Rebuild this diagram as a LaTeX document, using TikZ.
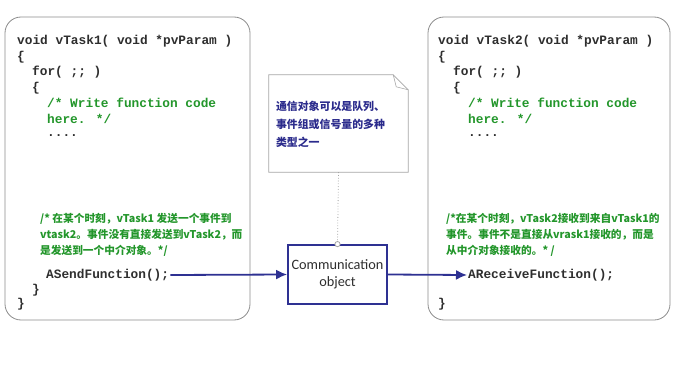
\documentclass[tikz,border=0pt]{standalone}
\usepackage{fontspec}
\usepackage{tikz}
\usetikzlibrary{arrows.meta,positioning}
\newfontfamily\codefont{Liberation Mono}
\newfontfamily\cjkfont{Noto Sans CJK SC}
\newfontfamily\labelfont{Carlito}
\definecolor{framegray}{HTML}{8C8C8C}
\definecolor{notegray}{HTML}{A6A6A6}
\definecolor{codeblack}{HTML}{2E2E2E}
\definecolor{commentgreen}{HTML}{23962B}
\definecolor{notenavy}{HTML}{2B2B8C}
\definecolor{linkblue}{HTML}{2E3192}
\tikzset{
  taskbox/.style={
    draw=framegray,line width=.8pt,rounded corners=16pt,
    minimum height=303pt,inner sep=0pt
  },
  code/.style={
    anchor=west,inner sep=1pt,text=codeblack,
    font=\codefont\bfseries\fontsize{12.8}{14}\selectfont
  },
  comment/.style={code,text=commentgreen},
  cjkcomment/.style={
    anchor=west,inner sep=1pt,text=commentgreen,
    font=\cjkfont\bfseries\fontsize{10.7}{12}\selectfont
  },
  commbox/.style={
    draw=linkblue,line width=1.8pt,minimum width=99pt,minimum height=59pt,
    align=center,text=codeblack,font=\labelfont\fontsize{14.3}{17}\selectfont
  },
  notetext/.style={
    anchor=north west,inner sep=0pt,text width=134pt,align=left,text=notenavy,
    font=\cjkfont\bfseries\fontsize{10.9}{18}\selectfont
  },
  arrow/.style={-{Latex[length=11pt,width=10pt]},draw=linkblue,line width=1.8pt}
}
\begin{document}
\begin{tikzpicture}[x=1pt,y=-1pt]
\useasboundingbox (0,0) rectangle (675,369);
% the two tasks
\node[taskbox,minimum width=245pt] (task1) at (127.5,168.5) {};
\node[taskbox,minimum width=242pt] (task2) at (549,168.5) {};

% code of vTask1
\node[code] (t1head) at (16,41) {void vTask1( void *pvParam )};
\node[code] at (16,57) {\{};
\node[code] at (31,72) {for( ;; )};
\node[code] at (31,88) {\{};
\node[comment] at (46,103) {/* Write function code};
\node[comment] at (46,119) {here. */};
\node[code] at (46,136) {....};
\node[cjkcomment] at (39,219) {/* 在某个时刻，vTask1 发送一个事件到};
\node[cjkcomment] at (39,235) {vtask2。事件没有直接发送到vTask2，而};
\node[cjkcomment] at (39,251) {是发送到一个中介对象。*/};
\node[code] (send) at (45,275) {ASendFunction();};
\node[code] at (31,290) {\}};
\node[code] at (16,304) {\}};

% code of vTask2
\node[code] (t2head) at (437,41) {void vTask2( void *pvParam )};
\node[code] at (437,57) {\{};
\node[code] at (452,72) {for( ;; )};
\node[code] at (452,88) {\{};
\node[comment] at (467,103) {/* Write function code};
\node[comment] at (467,119) {here. */};
\node[code] at (467,136) {....};
\node[cjkcomment] at (445,219) {/*在某个时刻，vTask2接收到来自vTask1的};
\node[cjkcomment] at (445,235) {事件。事件不是直接从vrask1接收的，而是};
\node[cjkcomment] at (445,251) {从中介对象接收的。* /};
\node[code] (receive) at (467,275) {AReceiveFunction();};
\node[code] at (437,304) {\}};

% communication object and its note
\node[commbox] (comm) at (337.5,274.5) {Communication\\object};
\node[minimum width=139pt,minimum height=97pt,inner sep=0pt] (note) at (338.5,123.5) {};
\draw[notegray,line width=.8pt,fill=white]
  (note.south west) -- (note.north west) -- ([xshift=-15pt]note.north east)
  -- ([yshift=-15pt]note.north east) -- (note.south east) -- cycle;
\draw[notegray,line width=.6pt]
  ([xshift=-15pt]note.north east) -- ([xshift=-12pt,yshift=-12pt]note.north east)
  -- ([yshift=-15pt]note.north east);
\node[notetext] (notetxt) at ([xshift=7pt,yshift=-26pt]note.north west)
  {通信对象可以是队列、\\事件组或信号量的多种\\类型之一};
\draw[notegray,dotted,line width=.8pt,-{Circle[open,length=6pt,fill=white]},shorten >=-3pt]
  (note.south) -- (comm.north);

% connectors
\draw[arrow] (send.east) -- (comm.west);
\draw[arrow] (comm.east) -- (receive.west);
\end{tikzpicture}
\end{document}
